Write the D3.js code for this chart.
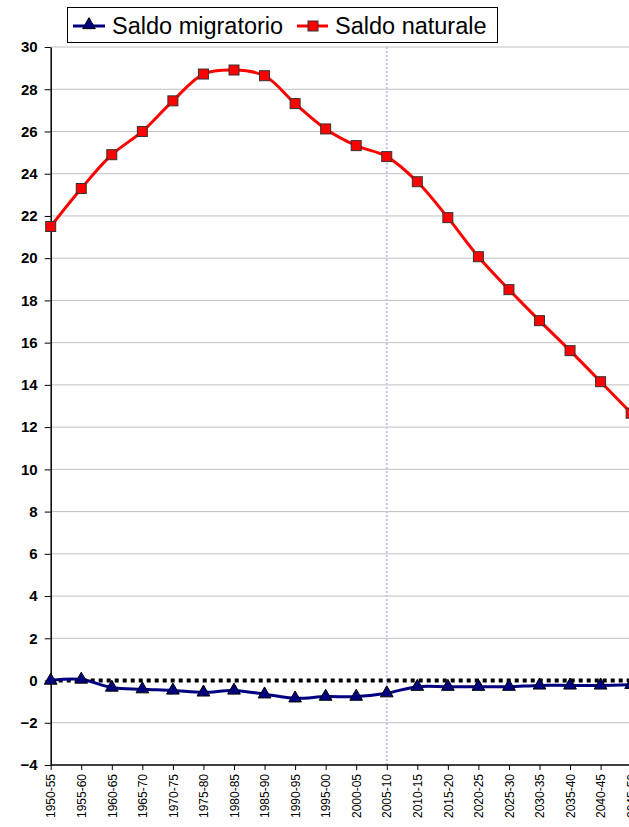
<!DOCTYPE html>
<html><head><meta charset="utf-8">
<script src="https://cdn.jsdelivr.net/npm/d3@7"></script>
<style>body{margin:0;background:#fff;overflow:hidden}svg{display:block}</style>
</head><body>
<script>
const categories = ["1950-55","1955-60","1960-65","1965-70","1970-75","1975-80","1980-85","1985-90","1990-95","1995-00","2000-05","2005-10","2010-15","2015-20","2020-25","2025-30","2030-35","2035-40","2040-45","2045-50"];
const saldoMigratorio = [0.0,0.05,-0.33,-0.41,-0.47,-0.56,-0.47,-0.65,-0.84,-0.76,-0.76,-0.6,-0.29,-0.29,-0.29,-0.29,-0.23,-0.23,-0.23,-0.2];
const saldoNaturale = [21.5,23.3,24.9,26.0,27.45,28.72,28.91,28.64,27.32,26.12,25.33,24.81,23.62,21.92,20.07,18.51,17.04,15.62,14.15,12.66];
const yTicks = [-4,-2,0,2,4,6,8,10,12,14,16,18,20,22,24,26,28,30];
const markerCategory = "2005-10";

const W = 629, H = 827;
const FONT = "Liberation Sans, Arial, sans-serif";
const svg = d3.select("body").append("svg").attr("width", W).attr("height", H);
const x0 = 50.7, step = 30.55;
const x = d3.scalePoint().domain(categories).range([x0, x0 + step*(categories.length-1)]);
const y = d3.scaleLinear().domain([-4, 30]).range([765, 47]);
const right = 640;

// gridlines
svg.append("g").selectAll("line").data(yTicks.filter(t => t !== 0 && t !== -4)).join("line")
  .attr("x1", x0).attr("x2", right).attr("y1", d => y(d)).attr("y2", d => y(d))
  .attr("stroke", "#c0c0c0").attr("stroke-width", 1);

// vertical dotted line
svg.append("line").attr("x1", x(markerCategory)).attr("x2", x(markerCategory))
  .attr("y1", y(30)).attr("y2", y(-4)).attr("stroke", "#c4c4f4").attr("stroke-width", 2)
  .attr("stroke-dasharray", "2,2");

// zero dotted line
svg.append("line").attr("x1", x0).attr("x2", right).attr("y1", y(0)).attr("y2", y(0))
  .attr("stroke", "#000").attr("stroke-width", 4).attr("stroke-dasharray", "4,4");

// y axis
const yAxis = d3.axisLeft(y).tickValues(yTicks).tickSize(6).tickSizeOuter(0).tickPadding(7);
const gy = svg.append("g").attr("transform", `translate(${x0},0)`).call(yAxis);
gy.select(".domain").attr("stroke", "#000").attr("stroke-width", 1.5);
gy.selectAll(".tick line").attr("stroke", "#000");
gy.selectAll("text").attr("font-family", FONT).attr("font-size", 15)
  .attr("font-weight", "bold").attr("fill", "#000");

// x axis
const xAxis = d3.axisBottom(x).tickSize(5).tickSizeOuter(0);
const gx = svg.append("g").attr("transform", `translate(0,${y(-4)})`).call(xAxis);
gx.select(".domain").attr("stroke", "#000").attr("stroke-width", 1.5).attr("d", `M${x0},0H${right}`);
gx.selectAll(".tick line").attr("stroke", "#000");
gx.selectAll("text").attr("font-family", FONT).attr("font-size", 12)
  .attr("fill", "#000").attr("text-anchor", "end").attr("transform", "rotate(-90)")
  .attr("x", -9).attr("y", 0).attr("dy", "0.35em");

const curve = d3.curveCatmullRom.alpha(0.5);
const line = d3.line().x((d,i) => x(categories[i])).y(d => y(d)).curve(curve);

// naturale
svg.append("path").datum(saldoNaturale).attr("d", line).attr("fill", "none")
  .attr("stroke", "#ff0000").attr("stroke-width", 3);
svg.append("g").selectAll("rect").data(saldoNaturale).join("rect")
  .attr("x", (d,i) => x(categories[i]) - 5).attr("y", d => y(d) - 5)
  .attr("width", 10).attr("height", 10).attr("fill", "#ff0000").attr("stroke", "#333").attr("stroke-width", 1);

// migratorio
svg.append("path").datum(saldoMigratorio).attr("d", line).attr("fill", "none")
  .attr("stroke", "#000080").attr("stroke-width", 3);
const tri = d3.symbol().type(d3.symbolTriangle).size(70);
svg.append("g").selectAll("path").data(saldoMigratorio).join("path")
  .attr("d", tri).attr("transform", (d,i) => `translate(${x(categories[i])},${y(d)})`)
  .attr("fill", "#000080").attr("stroke", "#000").attr("stroke-width", 1);

// legend
const lg = svg.append("g");
lg.append("rect").attr("x", 67.5).attr("y", 7.5).attr("width", 430).attr("height", 35)
  .attr("fill", "#fff").attr("stroke", "#000").attr("stroke-width", 1);
lg.append("line").attr("x1", 73).attr("x2", 105).attr("y1", 26).attr("y2", 26).attr("stroke", "#000080").attr("stroke-width", 3);
lg.append("path").attr("d", tri).attr("transform", "translate(89,25)").attr("fill", "#000080").attr("stroke", "#000");
lg.append("text").attr("x", 112).attr("y", 34).text("Saldo migratorio")
  .attr("font-family", FONT).attr("font-size", 23.5).attr("fill", "#000");
lg.append("line").attr("x1", 297).attr("x2", 328).attr("y1", 26).attr("y2", 26).attr("stroke", "#ff0000").attr("stroke-width", 3);
lg.append("rect").attr("x", 308).attr("y", 21).attr("width", 10).attr("height", 10).attr("fill", "#ff0000").attr("stroke", "#333");
lg.append("text").attr("x", 335).attr("y", 34).text("Saldo naturale")
  .attr("font-family", FONT).attr("font-size", 23.5).attr("fill", "#000");
</script>
</body></html>
